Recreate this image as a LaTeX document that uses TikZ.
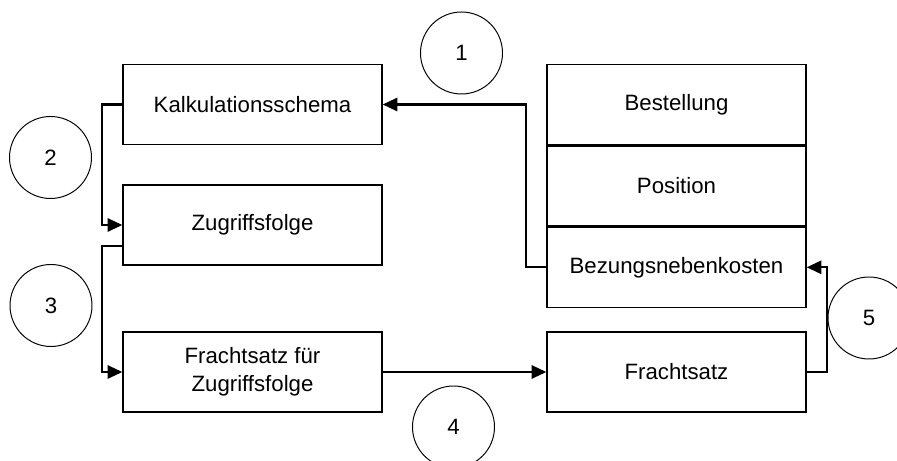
\documentclass[tikz,border=0pt]{standalone}
\usepackage{fontspec}
\setmainfont{Liberation Sans}
\usepackage{tikz}
\usetikzlibrary{arrows.meta,positioning}

\begin{document}
\begin{tikzpicture}[
  font=\fontsize{15.8}{20}\selectfont,
  box/.style={draw, rectangle, minimum width=6.475cm, minimum height=2cm, align=center, line width=1pt},
  num/.style={draw, circle, minimum size=2.05cm, inner sep=0pt, line width=0.7pt},
  >={Triangle[length=10.5pt, width=9.5pt]},
  arrline/.style={->, line width=1.5pt},
]
\useasboundingbox (0,0) rectangle (22.425,11.525);
% linke Spalte
\node[box] (kalk) at (6.3125,8.9125) {Kalkulationsschema};
\node[box] (zug) at (6.3125,5.9) {Zugriffsfolge};
\node[box] (fsz) at (6.3125,2.225) {Frachtsatz für\\Zugriffsfolge};
% rechte Spalte
\node[box] (best) at (16.9125,8.9125) {Bestellung};
\node[box, below=0pt of best] (pos) {Position};
\node[box, below=0pt of pos] (bez) {Bezungsnebenkosten};
\node[box] (fs) at (16.9125,2.225) {Frachtsatz};
% Schritte
\node[num] (n1) at (11.5375,10.2) {1};
\node[num] (n2) at (1.2625,7.5875) {2};
\node[num] (n3) at (1.275,3.8875) {3};
\node[num] (n4) at (11.3375,0.85) {4};
\node[num] (n5) at (21.725,3.575) {5};
% Verbindungen
\draw[arrline] (bez.west) -- ++(-0.5,0) |- (kalk.east);
\draw[arrline] (kalk.west) -- ++(-0.5,0) |- (zug.west);
\draw[arrline] ([yshift=-0.525cm]zug.west) -- ++(-0.5,0) |- (fsz.west);
\draw[arrline] (fsz.east) -- (fs.west);
\draw[arrline] (fs.east) -- ++(0.5,0) |- (bez.east);
\end{tikzpicture}
\end{document}
